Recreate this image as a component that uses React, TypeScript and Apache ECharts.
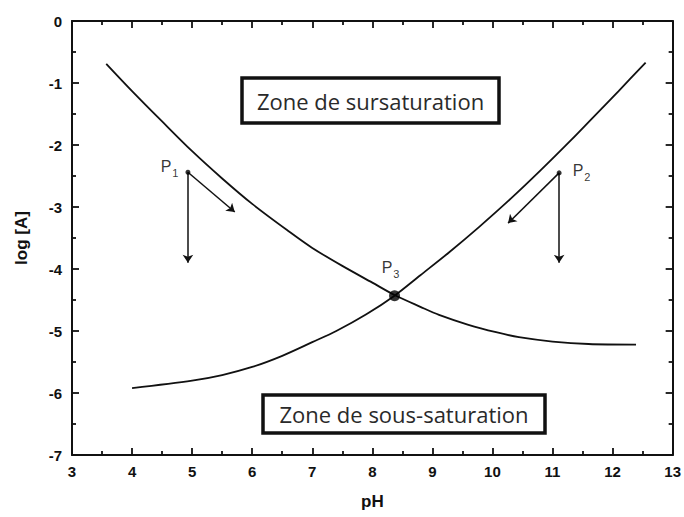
import React, { useEffect, useRef } from "react";
import * as echarts from "echarts";

// Curves: [pH, log[A]]
const curveSursaturation: number[][] = [
  [3.57, -0.69], [4.0, -1.13], [4.5, -1.62], [5.0, -2.1], [5.5, -2.54], [6.0, -2.95],
  [6.62, -3.4], [7.0, -3.66], [7.5, -3.95], [8.0, -4.22], [8.37, -4.42], [8.8, -4.61],
  [9.11, -4.74], [9.6, -4.9], [10.06, -5.02], [10.44, -5.1], [11.0, -5.17], [11.6, -5.21], [12.39, -5.22],
];
const curveSousSaturation: number[][] = [
  [4.0, -5.92], [5.0, -5.8], [5.5, -5.71], [6.0, -5.58], [6.5, -5.4], [7.0, -5.18],
  [7.4, -5.0], [7.9, -4.73], [8.37, -4.43], [8.8, -4.1], [9.28, -3.73], [9.78, -3.32],
  [10.3, -2.87], [10.8, -2.41], [11.32, -1.91], [11.64, -1.59], [12.1, -1.13], [12.55, -0.67],
];
const pointNames = ["1", "2", "3"];
const pointCoords: number[][] = [[4.93, -2.44], [11.11, -2.45], [8.37, -4.43]];
const arrowEnds: number[][][] = [
  [[4.93, -2.44], [4.93, -3.9]],
  [[4.93, -2.44], [5.71, -3.08]],
  [[11.11, -2.45], [11.11, -3.9]],
  [[11.11, -2.45], [10.26, -3.26]],
];
const xTicks = { min: 3, max: 13, interval: 1 };
const yTicks = { min: -7, max: 0, interval: 1 };
const zoneLabels = ["Zone de sursaturation", "Zone de sous-saturation"];
const axisNames = { x: "pH", y: "log [A]" };

export default function App() {
  const ref = useRef<HTMLDivElement>(null);
  useEffect(() => {
    if (!ref.current) return;
    const chart = echarts.init(ref.current, null, { renderer: "svg" });
    const ink = "#111111";
    const tickFont = { fontFamily: "Liberation Sans", fontSize: 15, fontWeight: "bold" as const, color: ink };
    const nameFont = { fontFamily: "Liberation Sans", fontSize: 17, fontWeight: "bold" as const, color: ink };
    const mkAxisLine = () => ({ show: true, onZero: false, lineStyle: { color: ink, width: 2 } });
    const mkAxisTick = () => ({ show: true, inside: true, length: 7, lineStyle: { color: ink, width: 1.8 } });
    const mkMinorTick = () => ({ show: true, splitNumber: 2, length: 4, lineStyle: { color: ink, width: 1.8 } });
    const labelPos: any[] = [
      { position: "left", offset: [-2, -6] },
      { position: "right", offset: [6, -2] },
      { position: "top", offset: [-4, -6] },
    ];
    const mkLabel = (i: number) => ({
      show: true,
      ...labelPos[i],
      color: "#000",
      textBorderWidth: 0,
      formatter: `{p|P}{s|${pointNames[i]}}`,
      rich: {
        p: { fontFamily: "Liberation Sans", fontSize: 16, color: "#000", textBorderWidth: 0 },
        s: { fontFamily: "Liberation Sans", fontSize: 11, color: "#000", textBorderWidth: 0, padding: [13, 0, 0, 1] },
      },
    });
    const boxes = [
      { x: 242, y: 78, w: 257, h: 45, text: zoneLabels[0] },
      { x: 263, y: 395, w: 282, h: 38, text: zoneLabels[1] },
    ];
    const graphic: any[] = [];
    boxes.forEach((b) => {
      graphic.push({
        type: "rect",
        shape: { x: b.x, y: b.y, width: b.w, height: b.h },
        style: { fill: "#fff", stroke: ink, lineWidth: 3.5 },
        z: 10,
      });
      graphic.push({
        type: "text",
        x: b.x + b.w / 2,
        y: b.y + b.h / 2,
        style: {
          text: b.text,
          fill: "#2a2a2a",
          font: "22px 'Open Sans'",
          align: "center",
          verticalAlign: "middle",
        },
        z: 11,
      });
    });
    chart.setOption({
      animation: false,
      backgroundColor: "#fff",
      textStyle: { color: "#000" },
      grid: { left: 72, right: 10, top: 21, bottom: 62 },
      xAxis: [
        {
          type: "value", ...xTicks, position: "bottom",
          name: axisNames.x, nameLocation: "middle", nameGap: 38, nameTextStyle: nameFont,
          axisLine: mkAxisLine(), axisTick: mkAxisTick(), minorTick: mkMinorTick(),
          splitLine: { show: false }, minorSplitLine: { show: false },
          axisLabel: { ...tickFont, margin: 9 },
        },
        {
          type: "value", ...xTicks, position: "top",
          axisLine: mkAxisLine(), axisTick: mkAxisTick(), minorTick: mkMinorTick(),
          splitLine: { show: false }, minorSplitLine: { show: false },
          axisLabel: { show: false },
        },
      ],
      yAxis: [
        {
          type: "value", ...yTicks, position: "left",
          name: axisNames.y, nameLocation: "middle", nameGap: 42, nameTextStyle: nameFont,
          axisLine: mkAxisLine(), axisTick: mkAxisTick(), minorTick: mkMinorTick(),
          splitLine: { show: false }, minorSplitLine: { show: false },
          axisLabel: { ...tickFont, margin: 10 },
        },
        {
          type: "value", ...yTicks, position: "right",
          axisLine: mkAxisLine(), axisTick: mkAxisTick(), minorTick: mkMinorTick(),
          splitLine: { show: false }, minorSplitLine: { show: false },
          axisLabel: { show: false },
        },
      ],
      series: [
        {
          type: "line", data: curveSursaturation, smooth: 0.3, showSymbol: false,
          lineStyle: { color: ink, width: 1.8 },
        },
        {
          type: "line", data: curveSousSaturation, smooth: 0.3, showSymbol: false,
          lineStyle: { color: ink, width: 1.8 },
        },
        {
          type: "lines", coordinateSystem: "cartesian2d",
          symbol: ["none", "arrow"], symbolSize: 8,
          lineStyle: { color: ink, width: 1.5, opacity: 1 },
          data: arrowEnds.map((c) => ({ coords: c })),
          z: 3,
        },
        {
          type: "scatter",
          data: pointCoords.map((c, i) => ({
            value: c,
            symbolSize: i === 2 ? 11 : 5,
            label: mkLabel(i),
          })),
          itemStyle: { color: "#000" },
          z: 4,
        },
      ],
      graphic,
    });
    return () => chart.dispose();
  }, []);
  return (
    <div
      ref={ref}
      style={{ position: "fixed", left: 0, top: 0, width: 684, height: 517, background: "#fff" }}
    />
  );
}
